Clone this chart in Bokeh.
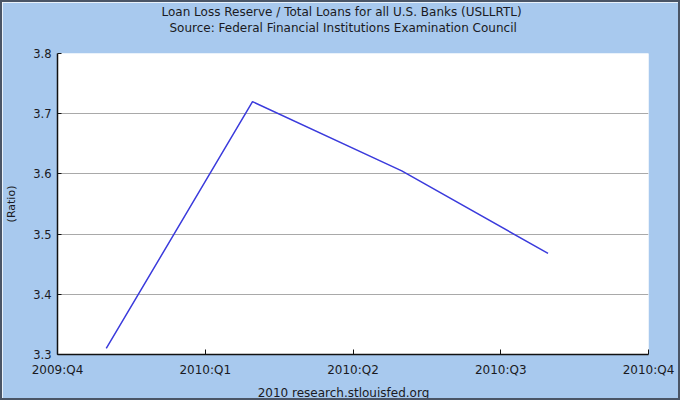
from bokeh.plotting import figure
from bokeh.models import FixedTicker, Range1d, Title
from bokeh.embed import file_html
from bokeh.resources import INLINE

# ---- data ----
quarter_labels = ["2009:Q4", "2010:Q1", "2010:Q2", "2010:Q3", "2010:Q4"]
quarter_ticks = [0, 1, 2, 3, 4]
obs_quarter = [0.33, 1.32, 2.33, 3.32]          # observation positions (quarters since 2009:Q4)
ratio = [3.31, 3.72, 3.605, 3.468]               # Loan loss reserve / total loans (ratio)
y_ticks = [3.3, 3.4, 3.5, 3.6, 3.7, 3.8]

title_line1 = "Loan Loss Reserve / Total Loans for all U.S. Banks (USLLRTL)"
title_line2 = "Source: Federal Financial Institutions Examination Council"
footer_text = "2010 research.stlouisfed.org"
y_label = "(Ratio)"

BG = "#a8c9ee"
FONT = "DejaVu Sans"
TXT = "#1a1a22"
W, H = 680, 400

p = figure(width=W, height=H, output_backend="svg", toolbar_location=None,
           title_location=None,
           x_range=Range1d(0, 4), y_range=Range1d(3.3, 3.8),
           min_border_left=55, min_border_right=34, min_border_top=51, min_border_bottom=48,
           background_fill_color="white", border_fill_color=BG,
           styles={"border": "2px solid #4a5566"})
p.outline_line_color = None

p.line(obs_quarter, ratio, line_color="#3b3bdc", line_width=1.5)

# titles (later-added panels sit further from the frame)
def title(text, standoff, offset):
    return Title(text=text, align="left", offset=offset, standoff=standoff,
                 vertical_align="bottom", text_font=FONT, text_font_size="12px",
                 text_font_style="normal", text_color=TXT)

p.add_layout(Title(text=" ", standoff=3, text_font=FONT, text_font_size="12px"), "above")
p.add_layout(title(title_line2, 0, 112), "above")
p.add_layout(title(title_line1, 0, 104), "above")

# x axis
p.xaxis.ticker = FixedTicker(ticks=quarter_ticks)
p.xaxis.major_label_overrides = {t: lab for t, lab in zip(quarter_ticks, quarter_labels)}
p.xaxis.minor_tick_line_color = None
p.xaxis.major_tick_in = 5
p.xaxis.major_tick_out = 0
p.xaxis.major_label_standoff = 8
p.xaxis.axis_line_color = "#111111"
p.xaxis.axis_line_width = 1.5
p.xaxis.major_tick_line_color = "#111111"
p.xaxis.major_label_text_font = FONT
p.xaxis.major_label_text_font_size = "12px"
p.xaxis.major_label_text_color = TXT
p.xaxis.axis_label = footer_text + "\u00a0" * 5
p.xaxis.axis_label_text_font = FONT
p.xaxis.axis_label_text_font_size = "12px"
p.xaxis.axis_label_text_font_style = "normal"
p.xaxis.axis_label_text_color = TXT
p.xaxis.axis_label_standoff = 6

# y axis
p.yaxis.ticker = FixedTicker(ticks=y_ticks)
p.yaxis.minor_tick_line_color = None
p.yaxis.major_tick_in = 4
p.yaxis.major_tick_out = 0
p.yaxis.major_label_standoff = 6
p.yaxis.axis_line_color = "#111111"
p.yaxis.axis_line_width = 1.5
p.yaxis.major_tick_line_color = "#111111"
p.yaxis.major_label_text_font = FONT
p.yaxis.major_label_text_font_size = "11.5px"
p.yaxis.major_label_text_color = TXT
p.yaxis.axis_label = y_label
p.yaxis.axis_label_text_font = FONT
p.yaxis.axis_label_text_font_size = "11px"
p.yaxis.axis_label_text_font_style = "normal"
p.yaxis.axis_label_text_color = TXT
p.yaxis.axis_label_standoff = 12

# grid
p.xgrid.grid_line_color = None
p.ygrid.grid_line_color = "#a9a9a9"
p.ygrid.grid_line_width = 1

open("out.html", "w").write(file_html(p, INLINE))
